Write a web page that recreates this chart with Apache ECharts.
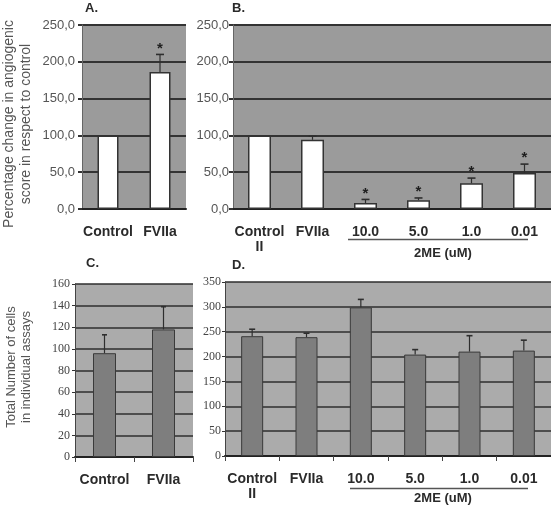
<!DOCTYPE html>
<html>
<head>
<meta charset="utf-8">
<script src="https://cdn.jsdelivr.net/npm/echarts@6/dist/echarts.min.js"></script>
<style>
  html, body { margin: 0; padding: 0; background: #fff; }
  #chart { width: 551px; height: 505px; }
</style>
</head>
<body>
<div id="chart"></div>
<script>
// panel A / B: angiogenic score (% of control)
const catsA = ['Control', 'FVIIa'];
const scoreA = [100, 186];
const scoreTopA = [100, 210];
const starsA = [0, 1];

const catsB = ['Control\nII', 'FVIIa', '10.0', '5.0', '1.0', '0.01'];
const scoreB = [100, 94, 8, 12, 35, 49];
const scoreTopB = [100, 99, 13, 15, 42, 61];
const starsB = [0, 0, 1, 1, 1, 1];

// panel C / D: total number of cells
const catsC = ['Control', 'FVIIa'];
const cellsC = [96, 118];
const cellsTopC = [113, 139];

const catsD = ['Control\nII', 'FVIIa', '10.0', '5.0', '1.0', '0.01'];
const cellsD = [241, 239, 299, 204, 210, 212];
const cellsTopD = [255, 247, 315, 214, 242, 233];

const FONT = 'Liberation Sans';
const chart = echarts.init(document.getElementById('chart'));

const errRows = (vals, tops, stars) =>
  vals.map((v, i) => [i, v, tops[i], stars ? stars[i] : 0]);

const errorItem = (capW) => (params, api) => {
  const i = api.value(0);
  const lo = api.coord([i, api.value(1)]);
  const hi = api.coord([i, api.value(2)]);
  const kids = [];
  if (hi[1] < lo[1] - 0.5) {
    kids.push({ type: 'line', shape: { x1: lo[0], y1: lo[1], x2: hi[0], y2: hi[1] },
      style: { stroke: '#2e2e2e', lineWidth: 1.2 } });
    kids.push({ type: 'line', shape: { x1: hi[0] - capW / 2, y1: hi[1], x2: hi[0] + capW / 2, y2: hi[1] },
      style: { stroke: '#2e2e2e', lineWidth: 1.6 } });
  }
  if (api.value(3)) {
    kids.push({ type: 'text', x: hi[0], y: hi[1] - 6,
      style: { text: '*', align: 'center', verticalAlign: 'middle',
        font: 'bold 15px ' + FONT, fill: '#1e1e1e' } });
  }
  return { type: 'group', children: kids };
};

const xCat = (gi, data, ticks) => ({
  type: 'category', gridIndex: gi, data,
  axisLine: { lineStyle: { color: '#222', width: 2 } },
  axisTick: { show: ticks, length: 5, lineStyle: { color: '#444' } },
  axisLabel: { interval: 0, margin: 16, color: '#2a2a2a', fontFamily: FONT,
    fontWeight: 'bold', fontSize: 14, lineHeight: 15 }
});

const yScore = (gi, margin) => ({
  type: 'value', gridIndex: gi, min: 0, max: 250, interval: 50,
  axisLine: { show: true, lineStyle: { color: '#666', width: 1 } },
  axisTick: { show: true, length: 4, lineStyle: { color: '#333', width: 2 } },
  axisLabel: { margin, color: '#555', fontFamily: FONT, fontSize: 13,
    formatter: (v) => v.toFixed(1).replace('.', ',') },
  splitLine: { lineStyle: { color: '#333', width: 2 } }
});

const yCells = (gi, max, interval, margin) => ({
  type: 'value', gridIndex: gi, min: 0, max, interval,
  axisLine: { show: true, lineStyle: { color: '#444', width: 1 } },
  axisTick: { show: true, length: 3, lineStyle: { color: '#333' } },
  axisLabel: { margin, color: '#444', fontFamily: 'Liberation Sans Narrow', fontSize: 12 },
  splitLine: { lineStyle: { color: '#2e2e2e', width: 1.5 } }
});

const whiteBar = { color: '#fff', borderColor: '#333', borderWidth: 1.5 };
const grayBar = { color: '#7e7e7e', borderColor: '#3a3a3a', borderWidth: 1 };

const titleText = (x, y, text, size, lh) => ({
  type: 'text', x, y, rotation: Math.PI / 2,
  style: { text, align: 'center', verticalAlign: 'middle', lineHeight: lh,
    font: size + 'px ' + FONT, fill: '#555' }
});
const plainText = (x, y, text, align) => ({
  type: 'text', x, y,
  style: { text, align, verticalAlign: 'middle', font: 'bold 13px ' + FONT, fill: '#2a2a2a' }
});
const underline = (x1, x2, y) => ({
  type: 'line', shape: { x1, y1: y, x2, y2: y }, style: { stroke: '#555', lineWidth: 1.5 }
});

chart.setOption({
  animation: false,
  grid: [
    { left: 82, right: 365, top: 25, bottom: 296, show: true, backgroundColor: '#9b9b9b', borderWidth: 0 },
    { left: 233, right: 0, top: 25, bottom: 296, show: true, backgroundColor: '#9b9b9b', borderWidth: 0 },
    { left: 75, right: 358, top: 284, bottom: 48, show: true, backgroundColor: '#ababab', borderWidth: 0 },
    { left: 225, right: 0, top: 282, bottom: 49, show: true, backgroundColor: '#ababab', borderWidth: 0 }
  ],
  xAxis: [xCat(0, catsA, false), xCat(1, catsB, false), xCat(2, catsC, true), xCat(3, catsD, true)],
  yAxis: [yScore(0, 7), yScore(1, 4), yCells(2, 160, 20, 5), yCells(3, 350, 50, 4)],
  series: [
    { type: 'bar', xAxisIndex: 0, yAxisIndex: 0, data: scoreA, barWidth: 21, itemStyle: whiteBar },
    { type: 'bar', xAxisIndex: 1, yAxisIndex: 1, data: scoreB, barWidth: 23, itemStyle: whiteBar },
    { type: 'bar', xAxisIndex: 2, yAxisIndex: 2, data: cellsC, barWidth: 23, itemStyle: grayBar },
    { type: 'bar', xAxisIndex: 3, yAxisIndex: 3, data: cellsD, barWidth: 22, itemStyle: grayBar },
    { type: 'custom', xAxisIndex: 0, yAxisIndex: 0, renderItem: errorItem(8), data: errRows(scoreA, scoreTopA, starsA), z: 5 },
    { type: 'custom', xAxisIndex: 1, yAxisIndex: 1, renderItem: errorItem(8), data: errRows(scoreB, scoreTopB, starsB), z: 5 },
    { type: 'custom', xAxisIndex: 2, yAxisIndex: 2, renderItem: errorItem(5), data: errRows(cellsC, cellsTopC), z: 5 },
    { type: 'custom', xAxisIndex: 3, yAxisIndex: 3, renderItem: errorItem(6), data: errRows(cellsD, cellsTopD), z: 5 }
  ],
  graphic: [
    titleText(18, 124, 'Percentage change in angiogenic\nscore in respect to control', 14, 17),
    titleText(19, 367, 'Total Number of cells\nin individual assays', 13, 15),
    plainText(85, 8, 'A.', 'left'),
    plainText(232, 8, 'B.', 'left'),
    plainText(86, 263, 'C.', 'left'),
    plainText(232, 265, 'D.', 'left'),
    underline(348, 528, 239.5),
    plainText(443, 253, '2ME (uM)', 'center'),
    underline(350, 528, 488.5),
    plainText(443, 498, '2ME (uM)', 'center')
  ]
});
</script>
</body>
</html>
